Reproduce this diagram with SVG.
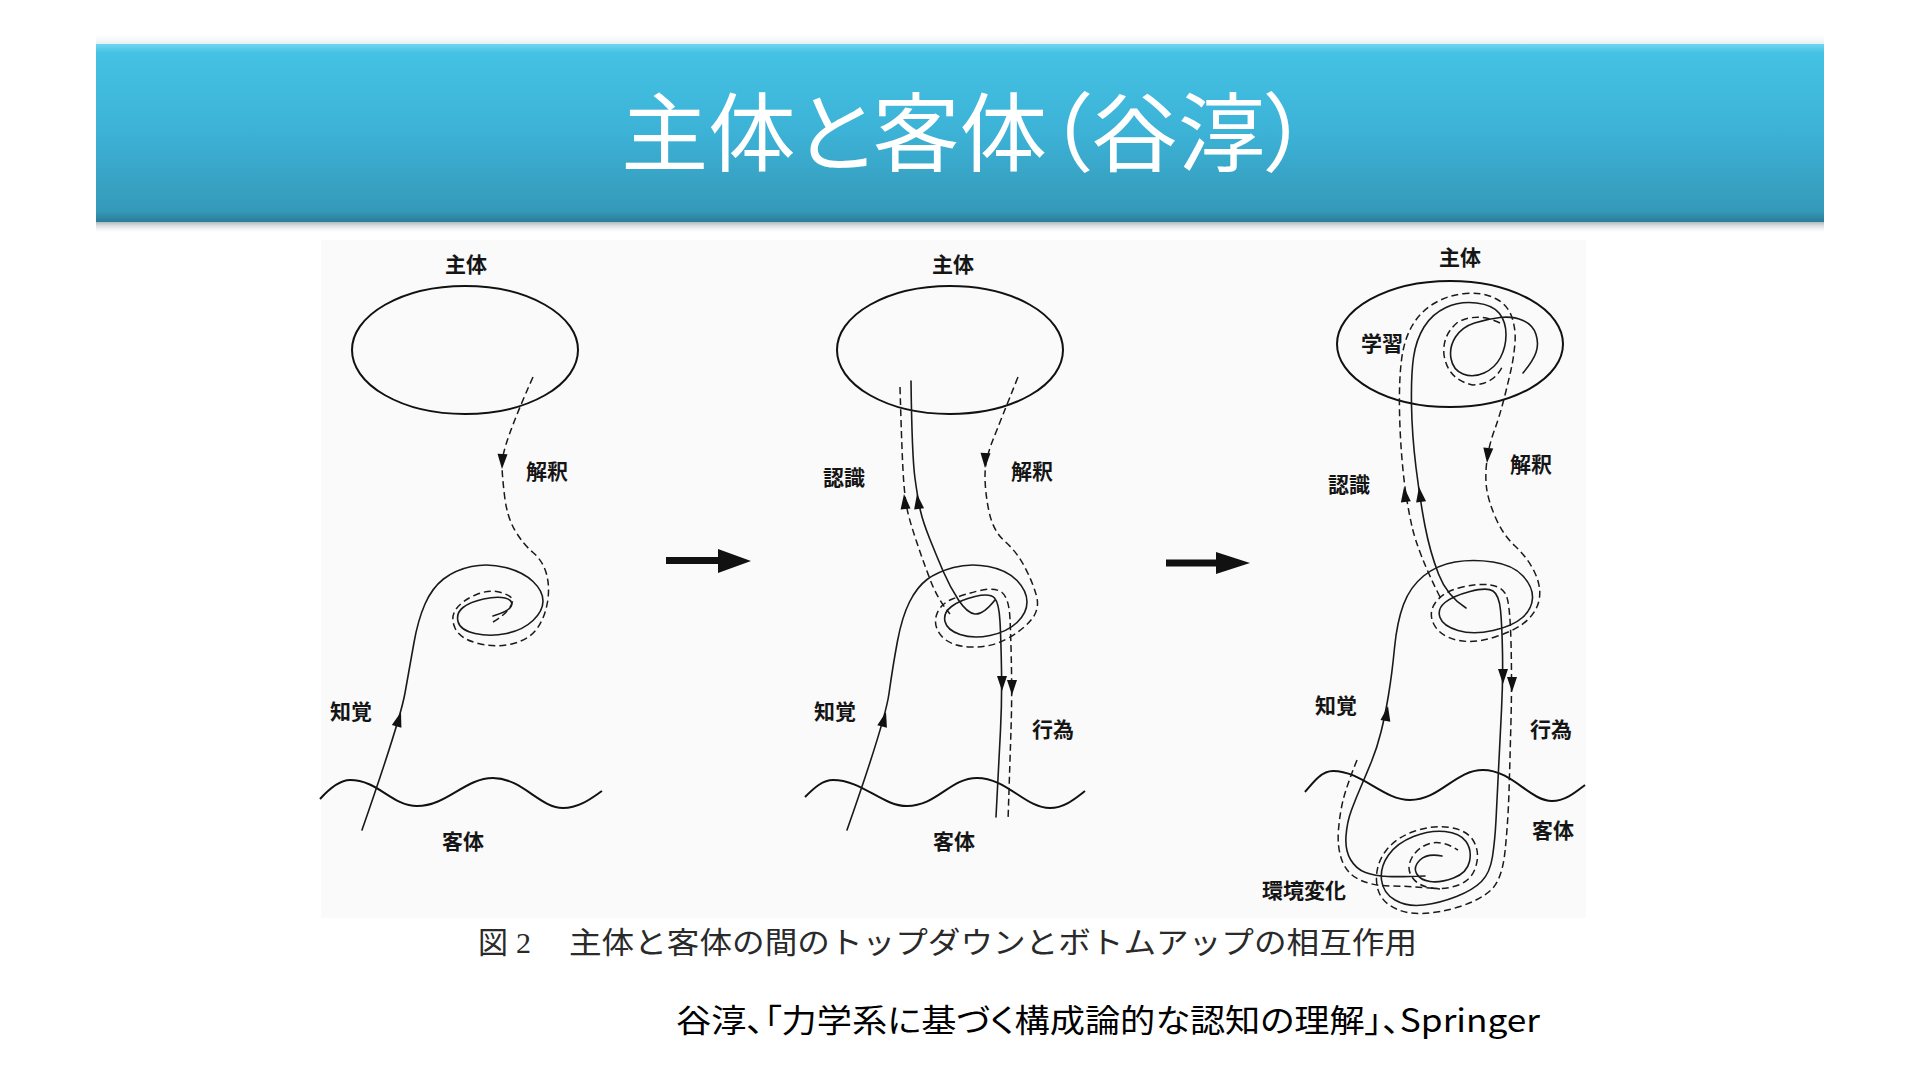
<svg xmlns="http://www.w3.org/2000/svg" xmlns:xlink="http://www.w3.org/1999/xlink" width="1920" height="1080" viewBox="0 0 1920 1080">
<defs>
<linearGradient id="bannerGrad" x1="0" y1="0" x2="0" y2="1">
<stop offset="0" stop-color="#6fd6f0"/>
<stop offset="0.05" stop-color="#44c2e3"/>
<stop offset="0.5" stop-color="#3cb2d6"/>
<stop offset="0.94" stop-color="#3599b9"/>
<stop offset="1" stop-color="#2a7c97"/>
</linearGradient>
<linearGradient id="shadowGrad" x1="0" y1="0" x2="0" y2="1">
<stop offset="0" stop-color="#9aa7ad" stop-opacity="0.8"/>
<stop offset="1" stop-color="#ffffff" stop-opacity="0"/>
</linearGradient>
<linearGradient id="topGlow" x1="0" y1="0" x2="0" y2="1">
<stop offset="0" stop-color="#ffffff" stop-opacity="0"/>
<stop offset="1" stop-color="#e8eef0" stop-opacity="1"/>
</linearGradient>
<path id="ah" d="M0,0 L-15,-5 L-15,5 Z"/>
<style>
.solid{fill:none;stroke:#1a1a1a;stroke-width:1.6;stroke-linecap:round;stroke-linejoin:round}
.dash{fill:none;stroke:#1a1a1a;stroke-width:1.5;stroke-dasharray:7 4}
.ell{fill:none;stroke:#111;stroke-width:2}
.wave{fill:none;stroke:#111;stroke-width:2}
.lbl{font-family:"Noto Sans CJK JP","Noto Sans CJK SC",sans-serif;font-size:21px;font-weight:bold;fill:#151515;text-anchor:middle}
.head{fill:#111}
.big{fill:#111}
.palt{font-feature-settings:"palt" 1}
</style>
</defs>
<rect width="1920" height="1080" fill="#ffffff"/>
<g id="banner">
<rect x="96" y="32" width="1728" height="12" fill="url(#topGlow)"/>
<rect x="96" y="222" width="1728" height="12" fill="url(#shadowGrad)"/>
<rect x="96" y="44" width="1728" height="178" fill="url(#bannerGrad)"/>
<text class="palt" x="621" y="165" font-family="'Noto Sans CJK JP','Noto Sans CJK SC',sans-serif" font-size="86" fill="#ffffff" textLength="688" lengthAdjust="spacingAndGlyphs">主体と客体（谷淳）</text>
</g>
<rect id="figure-bg" x="321" y="240" width="1265" height="678" fill="#fafafa"/>

<g id="panel1">
<g id="p1-subject"><ellipse class="ell" cx="465" cy="350" rx="113" ry="64"/><text class="lbl" x="466" y="272">主体</text></g>
<g id="p1-object"><path class="wave" d="M320,799 C330,788 340,780 350,780 C378,780 392,806 417,806 C447,806 465,778 493,778 C522,778 540,808 563,808 C580,808 593,797 602,791"/><text class="lbl" x="463" y="849">客体</text></g>
<g id="p1-labels"><text class="lbl" x="547" y="479">解釈</text><text class="lbl" x="351" y="719">知覚</text></g>
<g id="p1-connectors">
<path class="solid" d="M362,830 Q400,721 405,693 Q410,665 414,642.5 Q418,620 425,604 Q432,588 443.5,579 Q455,570 471.5,566.5 Q488,563 505.5,567.5 Q523,572 533,581.5 Q543,591 543,601 Q543,611 533,620.5 Q523,630 506.5,633.5 Q490,637 475,633.5 Q460,630 458,621.5 Q456,613 463,607.5 Q470,602 483.5,599 Q497,596 505,598 Q513,600 511.5,605.5 Q510,611 493,616"/>
<path class="dash" d="M533,377 Q517,413 509.5,434 Q502,455 502,464.5 Q502,474 504.5,495.5 Q507,517 515,530.5 Q523,544 533,552.5 Q543,561 546.5,574 Q550,587 547.5,602 Q545,617 537.5,628 Q530,639 513.5,643.5 Q497,648 478.5,643.5 Q460,639 455,628 Q450,617 456.5,608.5 Q463,600 476.5,594.5 Q490,589 501,592.5 Q512,596 512.5,600 Q513,604 507.5,610.5 Q502,617 493,622"/>
<use href="#ah" class="head" transform="translate(502,469) rotate(92)"/>
<use href="#ah" class="head" transform="translate(401,712) rotate(-73)"/>
</g>
</g>

<g id="step-arrows">
<path class="big" d="M666,557 L718,557 L718,549 L751,561 L718,573 L718,564 L666,564 Z"/>
<path class="big" d="M1166,559.5 L1216,559.5 L1216,552 L1250,563 L1216,574 L1216,566.5 L1166,566.5 Z"/>
</g>

<g id="panel2">
<g id="p2-subject"><ellipse class="ell" cx="950" cy="350" rx="113" ry="64"/><text class="lbl" x="953" y="272">主体</text></g>
<g id="p2-object"><path class="wave" d="M805,797 C815,787 823,780 833,780 C862,780 882,806 907,806 C937,806 950,778 977,778 C1007,778 1025,808 1050,808 C1065,808 1077,797 1085,791"/><text class="lbl" x="954" y="849">客体</text></g>
<g id="p2-labels"><text class="lbl" x="844" y="485">認識</text><text class="lbl" x="1032" y="479">解釈</text><text class="lbl" x="835" y="719">知覚</text><text class="lbl" x="1053" y="737">行為</text></g>
<g id="p2-connectors">
<path class="solid" d="M847,830 Q885,722 889,693.5 Q893,665 897.5,641 Q902,617 909.5,602 Q917,587 927,579.5 Q937,572 953.5,567.5 Q970,563 988.5,566.5 Q1007,570 1017,580.5 Q1027,591 1027,602 Q1027,613 1017,622.5 Q1007,632 990,635.5 Q973,639 960,634.5 Q947,630 945,621.5 Q943,613 951.5,606.5 Q960,600 975,596.5 Q990,593 994.5,598 Q999,603 1000,621.5 Q1001,640 1001.5,670 Q1002,700 1000.5,730 Q999,760 996,817"/>
<path class="solid" d="M911,381 Q912,457 915,478.5 Q918,500 920.5,511 Q923,522 930,539.5 Q937,557 943.5,572 Q950,587 958.5,600 Q967,613 975,614 Q983,615 995,600"/>
<path class="dash" d="M900,387 Q902,457 903.5,478.5 Q905,500 907.5,511 Q910,522 916.5,541.5 Q923,561 930.5,580.5 Q938,600 950,614"/>
<path class="dash" d="M1018,377 Q1000,422 992.5,441 Q985,460 985,476 Q985,492 989,511.5 Q993,531 1005,541.5 Q1017,552 1025,567.5 Q1033,583 1036.5,596 Q1040,609 1031.5,619.5 Q1023,630 1006.5,639 Q990,648 970,647 Q950,646 941.5,636 Q933,626 936.5,615 Q940,604 952.5,599 Q965,594 980,590.5 Q995,587 1002,592.5 Q1009,598 1010,619 Q1011,640 1011.5,670 Q1012,700 1011,730 Q1010,760 1008,821"/>
<use href="#ah" class="head" transform="translate(917,494) rotate(-98)"/>
<use href="#ah" class="head" transform="translate(904,494) rotate(-96)"/>
<use href="#ah" class="head" transform="translate(985,468) rotate(92)"/>
<use href="#ah" class="head" transform="translate(1002,691) rotate(90)"/>
<use href="#ah" class="head" transform="translate(1012,695) rotate(90)"/>
<use href="#ah" class="head" transform="translate(886,712) rotate(-75)"/>
</g>
</g>

<g id="panel3">
<g id="p3-subject"><ellipse class="ell" cx="1450" cy="344" rx="113" ry="63"/><text class="lbl" x="1460" y="265">主体</text><text class="lbl" x="1382" y="351">学習</text></g>
<g id="p3-object"><path class="wave" d="M1305,792 C1314,781 1322,771 1333,771 C1362,771 1383,800 1410,800 C1440,800 1455,770 1483,770 C1512,770 1530,801 1552,801 C1566,801 1577,791 1585,785"/><text class="lbl" x="1553" y="838">客体</text><text class="lbl" x="1304" y="898">環境変化</text></g>
<g id="p3-labels"><text class="lbl" x="1349" y="492">認識</text><text class="lbl" x="1531" y="472">解釈</text><text class="lbl" x="1336" y="713">知覚</text><text class="lbl" x="1551" y="737">行為</text></g>
<g id="p3-connectors">
<path class="solid" d="M1466,608 Q1447,596 1438.5,574 Q1430,552 1425,526 Q1420,500 1416,467.5 Q1412,435 1411.5,405 Q1411,375 1413.5,357.5 Q1416,340 1424,327 Q1432,314 1446,307.5 Q1460,301 1476.5,303 Q1493,305 1499.5,313.5 Q1506,322 1506,334.5 Q1506,347 1500.5,357.5 Q1495,368 1484,373 Q1473,378 1463,374 Q1453,370 1451,358.5 Q1449,347 1455.5,337 Q1462,327 1474.5,323 Q1487,319 1500,317.5 Q1513,316 1523,320.5 Q1533,325 1536,334.5 Q1539,344 1536,352.5 Q1533,361 1523,373"/>
<path class="solid" d="M1442,856 Q1427,853 1420,860 Q1413,867 1416.5,873.5 Q1420,880 1430,881.5 Q1440,883 1453.5,878 Q1467,873 1469.5,861.5 Q1472,850 1466,841.5 Q1460,833 1445,831.5 Q1430,830 1413.5,836.5 Q1397,843 1388.5,855 Q1380,867 1381.5,880 Q1383,893 1395,900 Q1407,907 1423.5,905 Q1440,903 1456.5,896.5 Q1473,890 1481.5,881.5 Q1490,873 1492.5,856.5 Q1495,840 1496,820 Q1497,800 1498.5,770 Q1500,740 1501.5,710 Q1503,680 1502.5,652.5 Q1502,625 1500.5,610 Q1499,595 1493,591 Q1487,587 1470,591.5 Q1453,596 1445,602.5 Q1437,609 1440,617.5 Q1443,626 1458,630.5 Q1473,635 1493,630.5 Q1513,626 1522.5,617.5 Q1532,609 1532.5,598 Q1533,587 1523,576 Q1513,565 1493,562 Q1473,559 1455,562 Q1437,565 1423.5,576 Q1410,587 1403.5,604.5 Q1397,622 1394.5,648 Q1392,674 1388.5,695 Q1385,716 1381,732 Q1377,748 1371.5,761.5 Q1366,775 1361,786.5 Q1356,798 1351.5,810 Q1347,822 1346,836 Q1345,850 1350.5,859.5 Q1356,869 1365.5,872.5 Q1375,876 1387.5,876.5 Q1400,877 1425,876"/>
<path class="dash" d="M1440,597 Q1418,553 1412,526.5 Q1406,500 1403,470 Q1400,440 1399.5,410 Q1399,380 1401.5,360 Q1404,340 1412,326 Q1420,312 1434,303.5 Q1448,295 1465.5,293.5 Q1483,292 1495.5,298.5 Q1508,305 1512,317.5 Q1516,330 1515,342.5 Q1514,355 1512,365 Q1510,375 1505,395 Q1500,415 1494.5,430 Q1489,445 1487,460 Q1485,475 1486.5,487.5 Q1488,500 1495.5,517.5 Q1503,535 1515,546 Q1527,557 1534,571 Q1541,585 1539.5,597.5 Q1538,610 1527.5,620 Q1517,630 1495,637 Q1473,644 1456.5,640 Q1440,636 1434,624.5 Q1428,613 1435.5,602.5 Q1443,592 1460.5,587.5 Q1478,583 1490.5,585 Q1503,587 1506.5,596 Q1510,605 1511,642.5 Q1512,680 1511,720 Q1510,760 1509,791.5 Q1508,823 1505,851.5 Q1502,880 1491,890 Q1480,900 1460,906.5 Q1440,913 1421.5,913.5 Q1403,914 1390,905.5 Q1377,897 1376.5,880 Q1376,863 1386.5,850 Q1397,837 1415,831 Q1433,825 1450,827.5 Q1467,830 1473.5,841 Q1480,852 1476,866 Q1472,880 1458.5,885 Q1445,890 1431.5,888 Q1418,886 1412,877 Q1406,868 1412,857.5 Q1418,847 1430,843.5 Q1442,840 1458,850"/>
<path class="dash" d="M1500,323 Q1478,312 1458,322 Q1442,335 1444,355 Q1448,380 1473,385 Q1495,384 1503,365"/>
<path class="dash" d="M1357,760 Q1347,785 1343.5,798.5 Q1340,812 1338.5,829.5 Q1337,847 1342,860.5 Q1347,874 1360,880 Q1373,886 1391.5,886 Q1410,886 1440,889"/>
<use href="#ah" class="head" transform="translate(1419,487) rotate(-98)"/>
<use href="#ah" class="head" transform="translate(1404,487) rotate(-97)"/>
<use href="#ah" class="head" transform="translate(1487,463) rotate(95)"/>
<use href="#ah" class="head" transform="translate(1503,684) rotate(90)"/>
<use href="#ah" class="head" transform="translate(1512,692) rotate(90)"/>
<use href="#ah" class="head" transform="translate(1388,706) rotate(-80)"/>
</g>
</g>

<g id="caption" font-family="'Noto Sans CJK JP','Noto Sans CJK SC',sans-serif" font-size="30" fill="#2a2a2a">
<text x="478" y="953">図</text>
<text x="516" y="953" font-family="'Liberation Serif',serif">2</text>
<text x="569" y="953" textLength="848" lengthAdjust="spacingAndGlyphs">主体と客体の間のトップダウンとボトムアップの相互作用</text>
</g>
<g id="citation">
<text class="palt" x="676" y="1032" font-family="'Noto Sans CJK JP','Noto Sans CJK SC',sans-serif" font-size="32" fill="#000" textLength="864" lengthAdjust="spacingAndGlyphs">谷淳、「力学系に基づく構成論的な認知の理解」、Springer</text>
</g>
</svg>
